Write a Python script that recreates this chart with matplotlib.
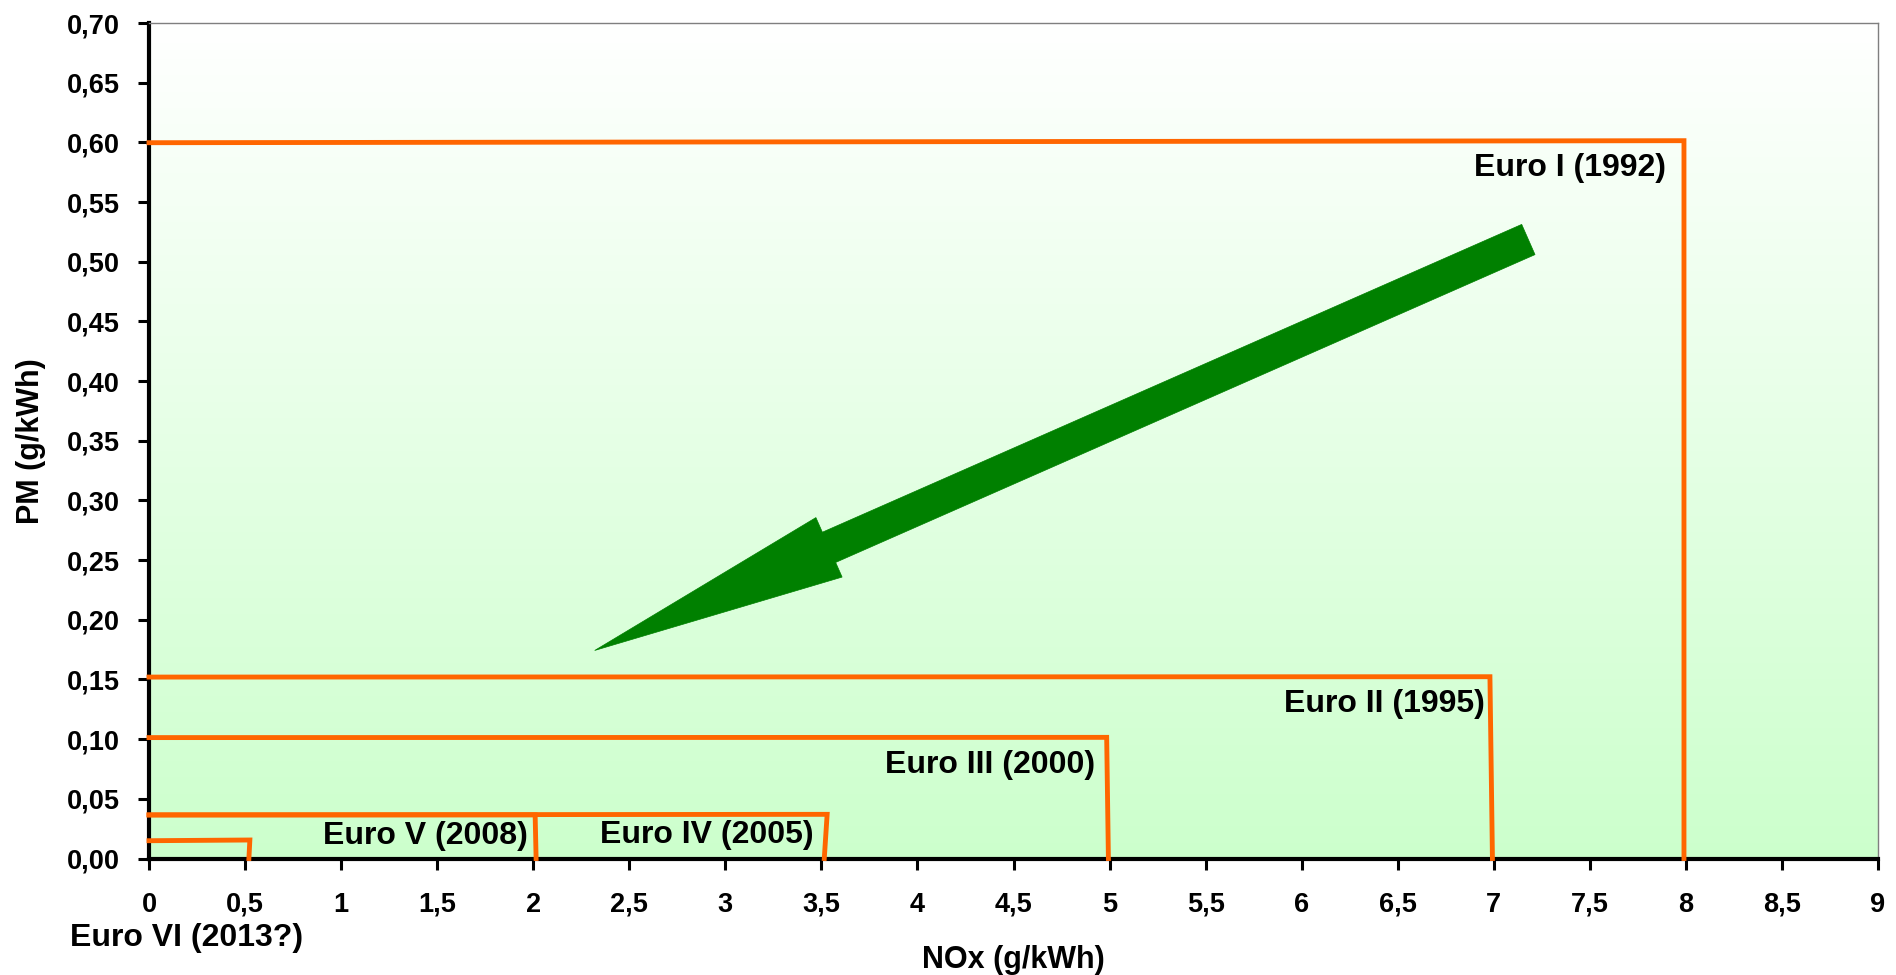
import numpy as np
import matplotlib
matplotlib.use('Agg')
import matplotlib.pyplot as plt
from matplotlib.colors import LinearSegmentedColormap
from matplotlib.patches import Polygon
from matplotlib.ticker import FuncFormatter, MultipleLocator

plt.rcParams['font.family'] = ['Liberation Sans', 'DejaVu Sans']
plt.rcParams['font.weight'] = 'bold'

# Euro limits for heavy duty engines, NOx vs PM (g/kWh)
# each limit drawn as a step: left edge -> corner -> down to the NOx axis
standards = ['Euro I (1992)', 'Euro II (1995)', 'Euro III (2000)',
             'Euro IV (2005)', 'Euro V (2008)', 'Euro VI (2013?)']
pm_left = [0.5997, 0.152, 0.1013, 0.0365, 0.0365, 0.0149]
nox_corner = [7.99, 6.98, 4.985, 3.53, 2.01, 0.525]
pm_corner = [0.6014, 0.1523, 0.1015, 0.037, 0.0365, 0.0155]
nox_bottom = [7.99, 6.993, 4.994, 3.515, 2.015, 0.52]

# label anchors (right end, baseline), except Euro VI which sits under the axis
label_x = [7.895, 6.955, 4.925, 3.458, 1.971, 0.195]
label_y = [0.5718, 0.123, 0.0714, 0.0127, 0.0119, -0.0735]
label_ha = ['right', 'right', 'right', 'right', 'right', 'center']

# trend arrow (tail, tip) in data units
arrow_tail = (7.18, 0.5186)
arrow_tip = (2.32, 0.1743)

orange = '#ff6600'

fig = plt.figure(figsize=(18.96, 9.75), dpi=100)
ax = fig.add_axes([149 / 1896, 1 - 858.5 / 975, (1878 - 149) / 1896, (858.5 - 23) / 975])
ax.set_xlim(0, 9)
ax.set_ylim(0, 0.70)

# white to pale green background
grad = np.linspace(0, 1, 256).reshape(-1, 1)
cmap = LinearSegmentedColormap.from_list('bg', ['#ffffff', '#ccffcc'])
ax.imshow(grad, extent=[0, 9, 0, 0.70], origin='upper', aspect='auto', cmap=cmap, zorder=0)

for i in range(len(standards)):
    ax.plot([0, nox_corner[i], nox_bottom[i]], [pm_left[i], pm_corner[i], 0],
            color=orange, lw=3.5, solid_joinstyle='miter', clip_on=False, zorder=3)
    ax.text(label_x[i], label_y[i], standards[i], ha=label_ha[i], va='baseline',
            fontsize=23, fontweight='bold', color='black', zorder=4)

# block arrow built in pixel space so the head keeps its shape
tail = ax.transData.transform(arrow_tail)
tip = ax.transData.transform(arrow_tip)
u = (tip - tail) / np.hypot(*(tip - tail))
n = np.array([-u[1], u[0]])
shaft_w, head_w, head_len = 33, 65, 256
base = tip - u * head_len
pts = [tail + n * shaft_w / 2, base + n * shaft_w / 2, base + n * head_w / 2, tip,
       base - n * head_w / 2, base - n * shaft_w / 2, tail - n * shaft_w / 2]
pts = ax.transData.inverted().transform(np.array(pts))
ax.add_patch(Polygon(pts, closed=True, facecolor='#008000', edgecolor='#008000', lw=0.5, zorder=3))

ax.xaxis.set_major_locator(MultipleLocator(0.5))
ax.yaxis.set_major_locator(MultipleLocator(0.05))
ax.xaxis.set_major_formatter(FuncFormatter(lambda v, p: ('%g' % v).replace('.', ',')))
ax.yaxis.set_major_formatter(FuncFormatter(lambda v, p: ('%.2f' % v).replace('.', ',')))
ax.tick_params(axis='both', direction='out', length=8, width=2.2, labelsize=19.5, color='black')
ax.tick_params(axis='x', pad=16)
ax.tick_params(axis='y', pad=13)

for s in ['left', 'bottom']:
    ax.spines[s].set_linewidth(3)
    ax.spines[s].set_color('black')
for s in ['top', 'right']:
    ax.spines[s].set_linewidth(1)
    ax.spines[s].set_color('#7f7f7f')

ax.set_xlabel('NOx (g/kWh)', fontsize=22, fontweight='bold')
ax.set_ylabel('PM (g/kWh)', fontsize=22, fontweight='bold')
ax.xaxis.set_label_coords(0.5, -0.103)
ax.yaxis.set_label_coords(-0.0595, 0.5)

fig.savefig('out.png', dpi=100)
